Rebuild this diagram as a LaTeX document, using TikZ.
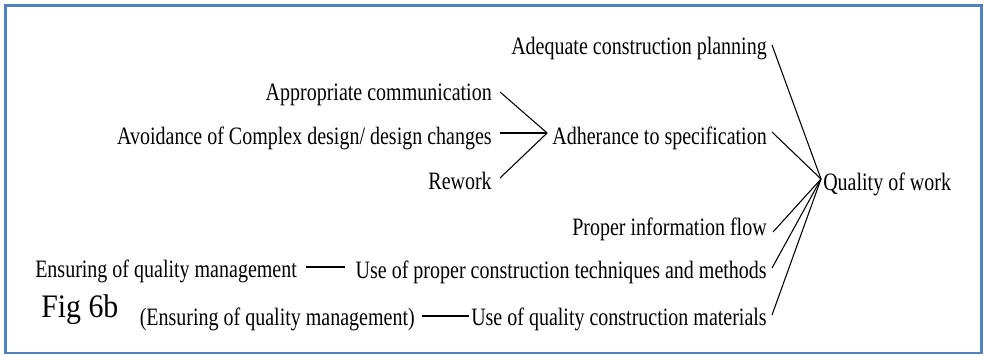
\documentclass[tikz,border=0pt]{standalone}
\usepackage{fontspec}
\setmainfont[FakeStretch=0.8]{Liberation Serif}
\newfontfamily\figfont[FakeStretch=0.91]{Liberation Serif}
\definecolor{frameblue}{RGB}{79,129,189}
\begin{document}
\begin{tikzpicture}[x=0.75pt,y=-0.75pt,
  lbl/.style={inner sep=0pt, font=\fontsize{18.75}{22}\selectfont},
  link/.style={line width=0.8pt, black}]
\useasboundingbox (0,0) rectangle (985,355);
\draw[frameblue, line width=1.9pt] (5.5,5.5) rectangle (981.5,353);

\node[lbl, anchor=base east] (adeq) at (767,54) {Adequate construction planning};
\node[lbl, anchor=base east] (adher) at (767,144) {Adherance to specification};
\node[lbl, anchor=base west] (qual) at (823,190) {Quality of work};
\node[lbl, anchor=base east] (comm) at (492,100) {Appropriate communication};
\node[lbl, anchor=base east] (avoid) at (492,144) {Avoidance of Complex design/ design changes};
\node[lbl, anchor=base east] (rework) at (492,189) {Rework};
\node[lbl, anchor=base east] (info) at (767,235) {Proper information flow};
\node[lbl, anchor=base east] (tech) at (767,278) {Use of proper construction techniques and methods};
\node[lbl, anchor=base east] (mat) at (767,325) {Use of quality construction materials};
\node[lbl, anchor=base west] (ens1) at (35,277) {Ensuring of quality management};
\node[lbl, anchor=base east] (ens2) at (415,325) {(Ensuring of quality management)};
\node[inner sep=0pt, anchor=base west, font=\figfont\fontsize{24.6}{28}\selectfont] (fig) at (41,317) {Fig 6b};

\draw[link] ([shift={(8,-8)}]comm.base east) -- ([shift={(-5,-11)}]adher.base west);
\draw[link] ([shift={(8,-11)}]avoid.base east) -- ([shift={(-5,-11)}]adher.base west);
\draw[link] ([shift={(8,-11)}]rework.base east) -- ([shift={(-5,-11)}]adher.base west);

\draw[link] ([shift={(5,-9)}]adeq.base east) -- ([shift={(-2,-11)}]qual.base west);
\draw[link] ([shift={(5,-12)}]adher.base east) -- ([shift={(-2,-11)}]qual.base west);
\draw[link] ([shift={(6,-3)}]info.base east) -- ([shift={(-2,-11)}]qual.base west);
\draw[link] ([shift={(5,-10)}]tech.base east) -- ([shift={(-2,-11)}]qual.base west);
\draw[link] ([shift={(5,-10)}]mat.base east) -- ([shift={(-2,-11)}]qual.base west);

\draw[link] ([shift={(9,-10)}]ens1.base east) -- ([shift={(-10,-11)}]tech.base west);
\draw[link] ([shift={(7,-9)}]ens2.base east) -- ([shift={(-2,-9)}]mat.base west);
\end{tikzpicture}
\end{document}
